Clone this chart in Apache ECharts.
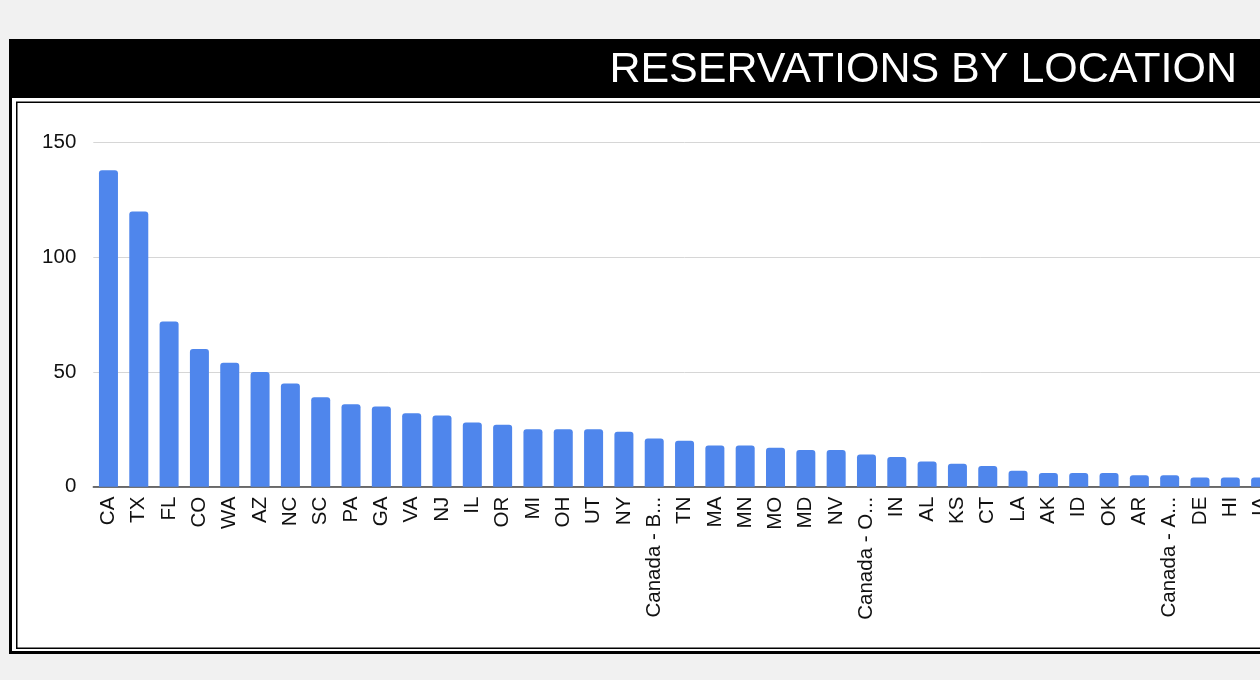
<!DOCTYPE html>
<html>
<head>
<meta charset="utf-8">
<script src="https://cdn.jsdelivr.net/npm/echarts@6/dist/echarts.min.js"></script>
<style>
  html, body { margin: 0; padding: 0; background: #f1f1f1; overflow: hidden; width: 1260px; height: 680px; }
  #chart { width: 1300px; height: 680px; }
</style>
</head>
<body>
<div id="chart"></div>
<script>
const titleText = 'RESERVATIONS BY LOCATION';
const categories = ['CA','TX','FL','CO','WA','AZ','NC','SC','PA','GA','VA','NJ','IL','OR','MI','OH','UT','NY',
  'Canada - B...','TN','MA','MN','MO','MD','NV','Canada - O...','IN','AL','KS','CT','LA','AK','ID','OK','AR',
  'Canada - A...','DE','HI','IA'];
const reservations = [138,120,72,60,54,50,45,39,36,35,32,31,28,27,25,25,25,24,
  21,20,18,18,17,16,16,14,13,11,10,9,7,6,6,6,5,
  5,4,4,4];
const yTicks = { min: 0, max: 150, interval: 50 };

const chart = echarts.init(document.getElementById('chart'), null, { renderer: 'canvas' });
const font = '"Liberation Sans", Arial, Helvetica, sans-serif';

chart.setOption({
  backgroundColor: '#f1f1f1',
  animation: false,
  graphic: [
    { type: 'rect', z: -10, shape: { x: 10.5, y: 40.5, width: 1320, height: 612 },
      style: { fill: '#ffffff', stroke: '#000000', lineWidth: 3 } },
    { type: 'rect', z: -9, shape: { x: 9, y: 39, width: 1320, height: 59 },
      style: { fill: '#000000' } },
    { type: 'rect', z: -9, shape: { x: 16.75, y: 102.3, width: 1320, height: 546 },
      style: { fill: 'transparent', stroke: '#000000', lineWidth: 1.5 } },
    { type: 'text', z: 10, style: { x: 1237, y: 70, text: titleText, fill: '#ffffff',
      font: '43px ' + font, textAlign: 'right', textVerticalAlign: 'middle' } }
  ],
  grid: { left: 93.3, right: 24.2, top: 142.7, bottom: 193.3, containLabel: false },
  xAxis: {
    type: 'category',
    data: categories,
    boundaryGap: true,
    axisTick: { show: false },
    axisLine: { lineStyle: { color: '#444', width: 1.5 } },
    axisLabel: { rotate: 90, interval: 0, margin: 10, color: '#111', fontSize: 20.5, fontFamily: font }
  },
  yAxis: {
    type: 'value',
    min: yTicks.min, max: yTicks.max, interval: yTicks.interval,
    axisLine: { show: false },
    axisTick: { show: false },
    splitLine: { lineStyle: { color: '#d6d6d6', width: 1 } },
    axisLabel: { margin: 17, color: '#111', fontSize: 20.5, fontFamily: font }
  },
  series: [{
    type: 'bar',
    data: reservations,
    barWidth: 19,
    itemStyle: { color: '#4f86ec', borderRadius: [3, 3, 0, 0] }
  }]
});
</script>
</body>
</html>
